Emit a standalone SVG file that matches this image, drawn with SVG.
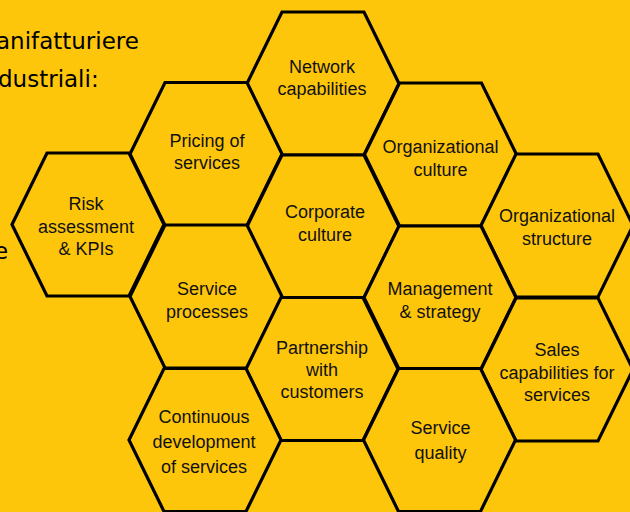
<svg xmlns="http://www.w3.org/2000/svg" width="630" height="512" viewBox="0 0 630 512">
<defs>
<polygon id="hex" points="-76,0 -41,-71.5 41,-71.5 76,0 41,71.5 -41,71.5"/>
</defs>
<style>
.hex{fill:#FEC60B;stroke:#000;stroke-width:3.2;stroke-linejoin:miter}
.lbl{font-family:"Liberation Sans",Arial,sans-serif;font-size:18px;fill:#111;text-anchor:middle}
.title{font-family:"DejaVu Sans",Verdana,sans-serif;font-size:23px;fill:#000}
</style>
<rect x="0" y="0" width="630" height="512" fill="#FEC60B"/>
<g id="title">
<text class="title" x="-4" y="49">anifatturiere</text>
<text class="title" x="-2" y="87">dustriali:</text>
<text class="title" x="-6" y="259">e</text>
</g>
<g id="connectors"></g>
<g id="network">
<use href="#hex" class="hex" x="323" y="83.5"/>
<text class="lbl"><tspan x="322" y="73">Network</tspan><tspan x="322" y="95">capabilities</tspan></text>
</g>
<g id="pricing">
<use href="#hex" class="hex" x="206" y="154"/>
<text class="lbl"><tspan x="207" y="147">Pricing of</tspan><tspan x="207" y="169">services</tspan></text>
</g>
<g id="risk">
<use href="#hex" class="hex" x="88" y="224.5"/>
<text class="lbl"><tspan x="86" y="210">Risk</tspan><tspan x="86" y="233">assessment</tspan><tspan x="86" y="255">&amp; KPIs</tspan></text>
</g>
<g id="corporate">
<use href="#hex" class="hex" x="323" y="226.5"/>
<text class="lbl"><tspan x="325" y="218">Corporate</tspan><tspan x="325" y="241">culture</tspan></text>
</g>
<g id="orgculture">
<use href="#hex" class="hex" x="440.5" y="154.5"/>
<text class="lbl"><tspan x="440.5" y="153">Organizational</tspan><tspan x="440.5" y="176">culture</tspan></text>
</g>
<g id="orgstructure">
<use href="#hex" class="hex" x="557" y="225.5"/>
<text class="lbl"><tspan x="557" y="222">Organizational</tspan><tspan x="557" y="245">structure</tspan></text>
</g>
<g id="serviceprocesses">
<use href="#hex" class="hex" x="206" y="296.5"/>
<text class="lbl"><tspan x="207" y="295">Service</tspan><tspan x="207" y="318">processes</tspan></text>
</g>
<g id="management">
<use href="#hex" class="hex" x="440" y="297.5"/>
<text class="lbl"><tspan x="440" y="295">Management</tspan><tspan x="440" y="318">&amp; strategy</tspan></text>
</g>
<g id="partnership">
<use href="#hex" class="hex" x="322" y="369"/>
<text class="lbl"><tspan x="322" y="354">Partnership</tspan><tspan x="322" y="376">with</tspan><tspan x="322" y="398">customers</tspan></text>
</g>
<g id="sales">
<use href="#hex" class="hex" x="557" y="369.5"/>
<text class="lbl"><tspan x="557" y="356">Sales</tspan><tspan x="557" y="379">capabilities for</tspan><tspan x="557" y="401">services</tspan></text>
</g>
<g id="continuous">
<use href="#hex" class="hex" x="205" y="440"/>
<text class="lbl"><tspan x="204" y="423">Continuous</tspan><tspan x="204" y="448">development</tspan><tspan x="204" y="473">of services</tspan></text>
</g>
<g id="servicequality">
<use href="#hex" class="hex" x="439.5" y="440"/>
<text class="lbl"><tspan x="440.5" y="434">Service</tspan><tspan x="440.5" y="459">quality</tspan></text>
</g>
</svg>
